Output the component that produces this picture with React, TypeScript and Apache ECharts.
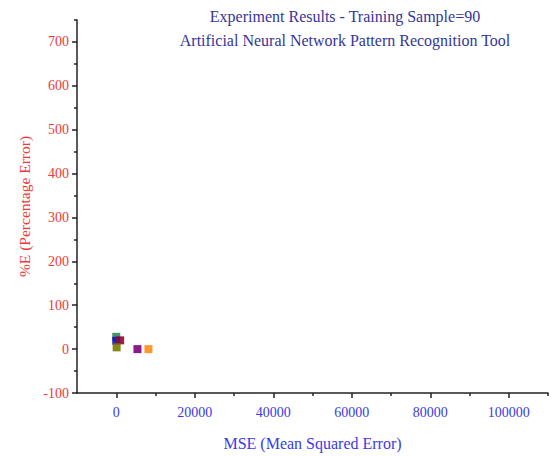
import React, { useEffect, useRef } from "react";
import * as echarts from "echarts";

const titleLines = [
  "Experiment Results - Training Sample=90",
  "Artificial Neural Network Pattern Recognition Tool",
];
const xTickLabels = [0, 20000, 40000, 60000, 80000, 100000];
const xMinorTicks = [10000, 30000, 50000, 70000, 90000, 110000];
const yTickLabels = [-100, 0, 100, 200, 300, 400, 500, 600, 700];
const yMinorTicks = [-50, 50, 150, 250, 350, 450, 550, 650, 750];
const mseValues = [0, 0, 1000, 100, 5400, 8200];
const errorValues = [28, 19, 20, 4, 0, 0];
const pointColors = ["#2e8b57", "#1010c0", "#8b0a3a", "#7a7a00", "#800080", "#ff8c1a"];

const FONT = "'Liberation Serif', 'Times New Roman', serif";

export default function App() {
  const ref = useRef<HTMLDivElement>(null);
  useEffect(() => {
    if (!ref.current) return;
    const chart = echarts.init(ref.current, undefined, { renderer: "svg" });
    const axisLine = { show: true, onZero: false, lineStyle: { color: "#222", width: 1.5 } };
    chart.setOption({
      animation: false,
      backgroundColor: "#fff",
      grid: { left: 77, right: 7, top: 20, bottom: 58, containLabel: false },
      graphic: titleLines.map((t, i) => ({
        type: "text",
        x: 345,
        y: 16 + i * 24,
        style: {
          text: t,
          fill: "#35359a",
          font: `16px ${FONT}`,
          textAlign: "center",
          textVerticalAlign: "middle",
        },
      })),
      xAxis: [
        {
          type: "value",
          min: -10000,
          max: 110000,
          position: "bottom",
          splitLine: { show: false },
          axisLine,
          axisTick: {
            show: true,
            length: 5,
            inside: false,
            customValues: xTickLabels,
            lineStyle: { color: "#222", width: 1.5 },
          },
          axisLabel: {
            customValues: xTickLabels,
            formatter: (v: number) => String(v),
            color: "#3a3ae8",
            fontFamily: FONT,
            fontSize: 14,
            margin: 12,
          },
          name: "MSE (Mean Squared Error)",
          nameLocation: "middle",
          nameGap: 42,
          nameTextStyle: { color: "#3a3ae8", fontFamily: FONT, fontSize: 16 },
        },
        {
          type: "value",
          min: -10000,
          max: 110000,
          position: "bottom",
          splitLine: { show: false },
          axisLine: { show: false, onZero: false },
          axisTick: {
            show: true,
            length: 3,
            customValues: xMinorTicks,
            lineStyle: { color: "#222", width: 1.5 },
          },
          axisLabel: { show: false },
        },
      ],
      yAxis: [
        {
          type: "value",
          min: -100,
          max: 750,
          position: "left",
          splitLine: { show: false },
          axisLine,
          axisTick: {
            show: true,
            length: 5,
            customValues: yTickLabels,
            lineStyle: { color: "#222", width: 1.5 },
          },
          axisLabel: {
            customValues: yTickLabels,
            formatter: (v: number) => String(v),
            color: "#f03838",
            fontFamily: FONT,
            fontSize: 14,
            margin: 8,
          },
          name: "%E (Percentage Error)",
          nameLocation: "middle",
          nameGap: 45,
          nameTextStyle: { color: "#f03838", fontFamily: FONT, fontSize: 15.5 },
        },
        {
          type: "value",
          min: -100,
          max: 750,
          position: "left",
          splitLine: { show: false },
          axisLine: { show: false, onZero: false },
          axisTick: {
            show: true,
            length: 3,
            customValues: yMinorTicks,
            lineStyle: { color: "#222", width: 1.5 },
          },
          axisLabel: { show: false },
        },
      ],
      series: mseValues.map((x, i) => ({
        type: "scatter",
        xAxisIndex: 0,
        yAxisIndex: 0,
        symbol: "rect",
        symbolSize: 8,
        itemStyle: { color: pointColors[i], opacity: 0.9 },
        data: [[x, errorValues[i]]],
      })),
    });
    return () => chart.dispose();
  }, []);
  return <div ref={ref} style={{ width: 555, height: 456, position: "absolute", left: 0, top: 0 }} />;
}
